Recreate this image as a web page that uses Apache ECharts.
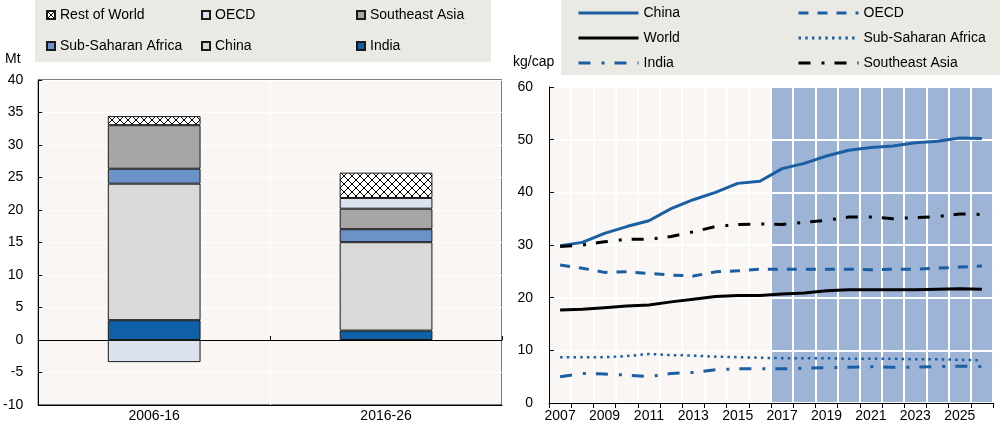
<!DOCTYPE html>
<html><head><meta charset="utf-8">
<script src="https://cdn.jsdelivr.net/npm/echarts@6/dist/echarts.min.js"></script>
<style>html,body{margin:0;padding:0;background:#fff}#c{width:1000px;height:426px}</style>
</head><body><div id="c"></div>
<script>
// ---- Left panel data (Mt) ----
const barCategories = ['2006-16', '2016-26'];
const barIndia = [3.05, 1.45];
const barChina = [21.0, 13.6];
const barSSA = [2.3, 2.0];
const barSEA = [6.7, 3.15];
const barOECD = [-3.4, 1.65];
const barRoW = [1.4, 3.9];

// ---- Right panel data (kg/cap) ----
const years = ['2007','2008','2009','2010','2011','2012','2013','2014','2015','2016',
               '2017','2018','2019','2020','2021','2022','2023','2024','2025','2026'];
const projectionStart = 2017;
const lineChina = [29.85,30.5,32.2,33.5,34.6,36.9,38.6,40.0,41.7,42.1,44.5,45.5,46.9,48.0,48.5,48.8,49.4,49.7,50.3,50.2];
const lineWorld = [17.65,17.8,18.1,18.4,18.6,19.2,19.7,20.2,20.4,20.4,20.7,20.9,21.3,21.5,21.5,21.5,21.5,21.6,21.7,21.6];
const lineIndia = [5.0,5.6,5.5,5.3,5.0,5.6,5.8,6.3,6.5,6.5,6.5,6.6,6.7,6.8,6.9,6.8,6.8,6.9,7.0,6.9];
const lineOECD = [26.2,25.6,24.8,24.9,24.6,24.3,24.1,24.9,25.1,25.4,25.4,25.4,25.4,25.4,25.3,25.4,25.4,25.6,25.8,26.0];
const lineSSA = [8.7,8.7,8.7,8.9,9.3,9.1,9.0,8.8,8.7,8.6,8.5,8.5,8.5,8.4,8.4,8.4,8.3,8.3,8.2,8.1];
const lineSEA = [29.7,30.0,30.6,31.1,31.1,31.6,32.5,33.5,33.9,34.0,33.9,34.3,34.7,35.3,35.3,35.0,35.2,35.4,35.9,35.8];

const FONT = 'Liberation Sans, Arial, sans-serif';
const BLUE = '#1a5fa3';
const SHADE = '#9db4d6';
const PLOTBG = '#f9f6f3';
const LEGBG = '#ebe9e4';

function hatch() {
  const c = document.createElement('canvas'); c.width = 8; c.height = 8;
  const g = c.getContext('2d');
  g.fillStyle = '#fff'; g.fillRect(0, 0, 8, 8);
  g.strokeStyle = '#000'; g.lineWidth = 1;
  g.beginPath(); g.moveTo(0, 0); g.lineTo(8, 8); g.moveTo(8, 0); g.lineTo(0, 8); g.stroke();
  return c;
}

const chart = echarts.init(document.getElementById('c'), null, {renderer: 'canvas'});

function barSeries(name, data, color) {
  return {
    name, type: 'bar', data, stack: 'total', xAxisIndex: 0, yAxisIndex: 0,
    barWidth: '40%', itemStyle: {color, borderColor: '#1a1a1a', borderWidth: 1},
    z: 3
  };
}
function lineSeries(name, data, color, type, width) {
  return {
    name, type: 'line', data, xAxisIndex: 1, yAxisIndex: 1, symbol: 'none',
    lineStyle: {color, width, type}, itemStyle: {color}, z: 5
  };
}
const legendText = {fontFamily: FONT, fontSize: 14, color: '#000', lineHeight: 16};
function barLegend(data, left) {
  return {data, left, top: 7, orient: 'vertical', itemGap: 15, itemWidth: 8, itemHeight: 8,
          icon: 'rect', padding: 0, textStyle: legendText, z: 10, selectedMode: false};
}
function lineLegend(data, left) {
  return {data, left, top: 5, orient: 'vertical', itemGap: 9, itemWidth: 60, itemHeight: 16,
          padding: 0, textStyle: legendText, z: 10, selectedMode: false,
          itemStyle: {opacity: 0}, lineStyle: {width: 3}};
}

const option = {
  animation: false,
  textStyle: {fontFamily: FONT},
  graphic: [
    {type: 'rect', shape: {x: 35, y: 0, width: 456, height: 62}, style: {fill: LEGBG}, z: 0},
    {type: 'rect', shape: {x: 561, y: 0, width: 439, height: 75}, style: {fill: LEGBG}, z: 0},
    {type: 'text', left: 5, top: 52, style: {text: 'Mt', font: '14px ' + FONT, fill: '#000'}},
    {type: 'text', left: 513, top: 55, style: {text: 'kg/cap', font: '14px ' + FONT, fill: '#000'}}
  ],
  legend: [
    barLegend(['Rest of World', 'Sub-Saharan Africa'], 46),
    barLegend(['OECD', 'China'], 201),
    barLegend(['Southeast Asia', 'India'], 356),
    lineLegend(['China ', 'World', 'India '], 577),
    lineLegend(['OECD ', 'Sub-Saharan Africa ', 'Southeast Asia '], 797)
  ],
  grid: [
    {left: 34, right: 498, top: 80, bottom: 21, show: true, backgroundColor: PLOTBG, borderColor: '#000', borderWidth: 1},
    {left: 549, right: 7, top: 87, bottom: 23, show: true, backgroundColor: PLOTBG, borderColor: '#000', borderWidth: 1}
  ],
  xAxis: [
    {type: 'category', gridIndex: 0, data: barCategories, position: 'bottom',
     axisLine: {onZero: false, lineStyle: {color: '#000'}}, axisTick: {show: false},
     axisLabel: {color: '#000', fontSize: 14, fontFamily: FONT, margin: 4},
     splitLine: {show: true, lineStyle: {color: '#ffffff', width: 1}}},
    {type: 'category', gridIndex: 1, data: years, boundaryGap: true, z: 2,
     axisLine: {onZero: false, lineStyle: {color: '#000'}},
     axisTick: {show: true, interval: 0, length: 5, lineStyle: {color: '#000'}},
     axisLabel: {color: '#000', fontSize: 14, fontFamily: FONT, interval: 1, margin: 6},
     splitLine: {show: true, interval: 0, lineStyle: {color: '#ffffff', width: 2}}},
    {type: 'category', gridIndex: 0, data: barCategories, position: 'top',
     axisLine: {onZero: true, lineStyle: {color: '#000'}},
     axisTick: {show: true, length: 4, lineStyle: {color: '#000'}},
     axisLabel: {show: false}, splitLine: {show: false}}
  ],
  yAxis: [
    {type: 'value', gridIndex: 0, min: -10, max: 40, interval: 5,
     axisLine: {show: true, lineStyle: {color: '#000'}},
     axisTick: {show: true, inside: true, length: 4, lineStyle: {color: '#000'}},
     axisLabel: {color: '#000', fontSize: 14, fontFamily: FONT, margin: 15},
     splitLine: {show: true, lineStyle: {color: '#ffffff', width: 1}}},
    {type: 'value', gridIndex: 1, min: 0, max: 60, interval: 10, z: 2,
     axisLine: {show: true, lineStyle: {color: '#000'}},
     axisTick: {show: true, inside: true, length: 5, lineStyle: {color: '#000'}},
     axisLabel: {color: '#000', fontSize: 14, fontFamily: FONT, margin: 16},
     splitLine: {show: true, lineStyle: {color: '#ffffff', width: 2}}}
  ],
  series: [
    barSeries('India', barIndia, '#1060a8'),
    barSeries('China', barChina, '#d9d9d9'),
    barSeries('Sub-Saharan Africa', barSSA, '#6b93c9'),
    barSeries('Southeast Asia', barSEA, '#a6a6a6'),
    barSeries('OECD', barOECD, '#dbe1ef'),
    barSeries('Rest of World', barRoW, {image: hatch(), repeat: 'repeat'}),
    {name: 'projection', type: 'bar', xAxisIndex: 1, yAxisIndex: 1, silent: true,
     data: years.map(y => (+y >= projectionStart ? 60 : null)),
     barWidth: '100%', barGap: '-100%', itemStyle: {color: SHADE}, z: 1},
    lineSeries('China ', lineChina, BLUE, 'solid', 3),
    lineSeries('World', lineWorld, '#000', 'solid', 3),
    lineSeries('India ', lineIndia, BLUE, [12, 11, 3, 10], 3),
    lineSeries('OECD ', lineOECD, BLUE, [10, 9], 3),
    lineSeries('Sub-Saharan Africa ', lineSSA, BLUE, [2.5, 4.2], 2.5),
    lineSeries('Southeast Asia ', lineSEA, '#000', [12, 11, 3, 10], 3)
  ]
};
chart.setOption(option);
</script>
</body></html>
